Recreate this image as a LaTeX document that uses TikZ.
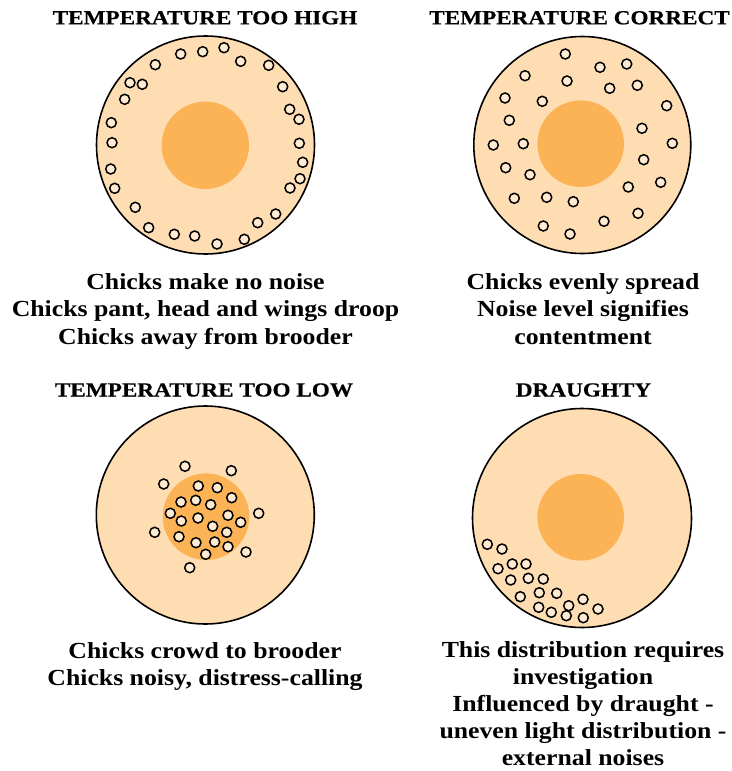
\documentclass[tikz,border=0pt]{standalone}
\usepackage{fontspec}
\newfontfamily\ttlfont{Liberation Serif}[FakeStretch=1.16,FakeBold=0.4]
\newfontfamily\bdyfont{Liberation Serif}[FakeStretch=1.12]
\definecolor{peach}{HTML}{FEDDB2}
\definecolor{heat}{HTML}{FBB355}
\definecolor{chickfill}{HTML}{FFEAD2}
\tikzset{
  outerring/.style={fill=peach, draw=black, line width=1.6pt},
  brooder/.style={fill=heat},
  chick/.style={fill=chickfill, draw=black, line width=1.5pt},
  ttl/.style={font=\ttlfont\bfseries\fontsize{20}{22}\selectfont, anchor=base, inner sep=0pt},
  bdy/.style={font=\bdyfont\bfseries\fontsize{23}{27}\selectfont, anchor=base, inner sep=0pt},
}
\begin{document}
\begin{tikzpicture}[x=1pt,y=-1pt]
\useasboundingbox (0,0) rectangle (731,771);
% panel 1: too high
\draw[outerring] (205.5,145) circle[radius=109pt];
\fill[brooder] (205.3,145.3) circle[radius=43.7pt];
\foreach \px/\py in {224/47.7,202.7/51.7,180.7/54,155.3/64.7,240.7/61.3,268.7/65.3,130/82.7,142.3/84.3,124.7/99.3,282.7/86.7,289.7/109.3,299/119.3,111.3/122.7,112/142.7,299.3/143.3,302.7/162.3,300/178.7,290/188,110.7/169,114.7/188.3,135.3/207.3,275.7/214,257.7/222.7,148.7/227.7,174.3/234.3,194.7/236,217/244,244.3/239.3}
  \draw[chick] (\px,\py) circle[radius=5pt];
% panel 2: correct
\draw[outerring] (582.3,145) circle[radius=108.5pt];
\fill[brooder] (580.7,143.7) circle[radius=43.3pt];
\foreach \px/\py in {565.3/54,600/67.3,626.7/64,525/75.7,567/81,609.7/88.3,637.3/85.3,505/98,542.3/101.3,666.7/105.7,509.3/120.3,642/128.3,493.3/145,523.3/143.7,672.3/143.3,505.7/167.7,530/174.7,643.7/159.7,660.7/182.3,628.3/187,514.3/198.3,546.7/197.3,573.3/201.7,638/213.3,604/221.3,543.3/226,570/234}
  \draw[chick] (\px,\py) circle[radius=5pt];
% panel 3: too low
\draw[outerring] (205.3,515) circle[radius=109pt];
\fill[brooder] (206,516.7) circle[radius=43.3pt];
\foreach \px/\py in {185/466.3,231.3/470.7,163.7/484,198.3/486,217.3/487.7,231.7/497.7,181/502,195.7/500.3,210.7/504.7,170.3/513.3,258.7/513.3,181.3/521,198/518,228/515.3,240.7/522.3,212.7/526.3,154.7/532.3,179/536.7,226.7/532.3,196/542.7,214.7/542,228/546.7,205.7/554.3,246/552,189.7/567.7}
  \draw[chick] (\px,\py) circle[radius=5pt];
% panel 4: draughty
\draw[outerring] (582,518) circle[radius=109.5pt];
\fill[brooder] (580.7,517.3) circle[radius=43.3pt];
\foreach \px/\py in {487.3/544.3,502/549,498/568.7,512.3/564,526/564,510.7/580,528.3/578.3,543.3/579,520.3/596.7,539.3/592.7,556.7/593.3,583/599.3,538.7/607.3,551.3/612.3,568.7/605.7,598/609,566.3/615.7,583.3/617.7}
  \draw[chick] (\px,\py) circle[radius=5pt];
% titles
\node[ttl] (t1) at (205,24.3) {TEMPERATURE TOO HIGH};
\node[ttl] (t2) at (579.5,24.3) {TEMPERATURE CORRECT};
\node[ttl] (t3) at (204,396.5) {TEMPERATURE TOO LOW};
\node[ttl] (t4) at (583.5,396.5) {DRAUGHTY};
% captions
\node[bdy] (a1) at (205.5,289) {Chicks make no noise};
\node[bdy] (a2) at (205.5,316.5) {Chicks pant, head and wings droop};
\node[bdy] (a3) at (205.5,344) {Chicks away from brooder};
\node[bdy] (b1) at (583,289) {Chicks evenly spread};
\node[bdy] (b2) at (583,316.5) {Noise level signifies};
\node[bdy] (b3) at (583,344) {contentment};
\node[bdy] (c1) at (205,658) {Chicks crowd to brooder};
\node[bdy] (c2) at (205,685.5) {Chicks noisy, distress-calling};
\node[bdy] (d1) at (583,657.5) {This distribution requires};
\node[bdy] (d2) at (583,684.5) {investigation};
\node[bdy] (d3) at (583,711.5) {Influenced by draught -};
\node[bdy] (d4) at (583,738.5) {uneven light distribution -};
\node[bdy] (d5) at (583,765.5) {external noises};
\end{tikzpicture}
\end{document}
